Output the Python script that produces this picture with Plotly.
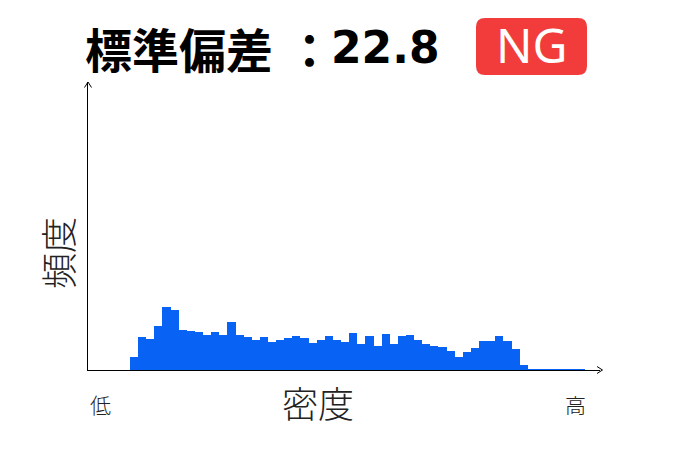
import plotly.graph_objects as go

# ---- data ----
title_label = "標準偏差"
title_sep = "："
title_value = "22.8"
badge_text = "NG"
x_label = "密度"
y_label = "頻度"
low_label = "低"
high_label = "高"

bins = list(range(56))
counts = [13, 33.5, 31.5, 44.5, 63.5, 60.5, 40.5, 39, 38.5, 35.5,
          38.5, 35.5, 48.5, 35.5, 33.5, 30.5, 33.5, 28.5, 30.5, 32.5,
          34.5, 32.5, 27.5, 30.5, 34.5, 30.5, 28.5, 37.5, 26.5, 34.5,
          24.5, 36, 26.5, 34.5, 35.5, 30.5, 26, 24.5, 23.5, 19.5,
          13, 18, 22, 29.5, 29.5, 34.5, 29, 21, 5.5, 0.6,
          0.6, 0.6, 0.6, 0.6, 0.6, 0.6]

W, H = 682, 459
OFF = 8  # page body margin
# plot area in screenshot pixels
X0, X1, Y0, Y1 = 88, 600, 82, 370
L, R = X0 - OFF, W - (X1 - OFF)
T, B = Y0 - OFF, H - (Y1 - OFF)
pw, ph = X1 - X0, Y1 - Y0

def px(x):  # screenshot pixel -> paper x
    return (x - X0) / pw

def py(y):  # screenshot pixel -> paper y
    return (Y1 - y) / ph

fig = go.Figure()
fig.add_trace(go.Bar(
    x=[b + 0.5 for b in bins], y=counts, width=1.0,
    marker=dict(color="#0862f4", line=dict(width=0)),
    hoverinfo="skip",
))

font_cjk = "Noto Sans CJK JP"

shapes = []
# arrow heads
shapes.append(dict(type="path", xref="paper", yref="paper",
                   path=f"M {px(84.5)} {py(87.5)} L {px(88)} {py(82)} L {px(91.5)} {py(87.5)}",
                   line=dict(color="black", width=1)))
shapes.append(dict(type="path", xref="paper", yref="paper",
                   path=f"M {px(597)} {py(366.5)} L {px(602.5)} {py(370)} L {px(597)} {py(373.5)}",
                   line=dict(color="black", width=1)))
# badge (rounded rectangle)
x0, x1, y0, y1, r = 476, 587, 18, 75, 9
path = (f"M {px(x0 + r)} {py(y0)} L {px(x1 - r)} {py(y0)} "
        f"Q {px(x1)} {py(y0)} {px(x1)} {py(y0 + r)} L {px(x1)} {py(y1 - r)} "
        f"Q {px(x1)} {py(y1)} {px(x1 - r)} {py(y1)} L {px(x0 + r)} {py(y1)} "
        f"Q {px(x0)} {py(y1)} {px(x0)} {py(y1 - r)} L {px(x0)} {py(y0 + r)} "
        f"Q {px(x0)} {py(y0)} {px(x0 + r)} {py(y0)} Z")
shapes.append(dict(type="path", xref="paper", yref="paper", path=path,
                   fillcolor="#f23c3c", line=dict(width=0)))

def ann(text, x, y, size, family=font_cjk, color="black", xanchor="center", angle=0, weight=None):
    f = dict(family=family, size=size, color=color)
    if weight is not None:
        f["weight"] = weight
    return dict(text=text, xref="paper", yref="paper", x=px(x), y=py(y),
                xanchor=xanchor, yanchor="middle", showarrow=False, textangle=angle,
                font=f)

annotations = [
    ann(f"<b>{title_label}</b>", 83, 48, 47, xanchor="left"),
    ann(f"<b>{title_sep}</b>", 309, 48, 47),
    ann(f"<b>{title_value}</b>", 329, 48, 44, family="DejaVu Sans", xanchor="left"),
    ann(badge_text, 531.5, 45, 48, family="Noto Sans", color="white"),
    ann(y_label, 57, 253, 36, color="#222", angle=-90, weight=300),
    ann(x_label, 318, 402, 36, color="#222", weight=300),
    ann(low_label, 100, 404, 21, color="#222", weight=300),
    ann(high_label, 575, 404, 21, color="#222", weight=300),
]

fig.update_layout(
    width=W, height=H,
    margin=dict(l=L, r=R, t=T, b=B, pad=0),
    paper_bgcolor="white", plot_bgcolor="white",
    bargap=0, showlegend=False,
    shapes=shapes, annotations=annotations,
    xaxis=dict(range=[-5.17, 57.9], showgrid=False, zeroline=False,
               showticklabels=False, ticks="", showline=True,
               linecolor="black", linewidth=1),
    yaxis=dict(range=[0, 288], showgrid=False, zeroline=False,
               showticklabels=False, ticks="", showline=True,
               linecolor="black", linewidth=1),
)

fig.write_html("out.html")
